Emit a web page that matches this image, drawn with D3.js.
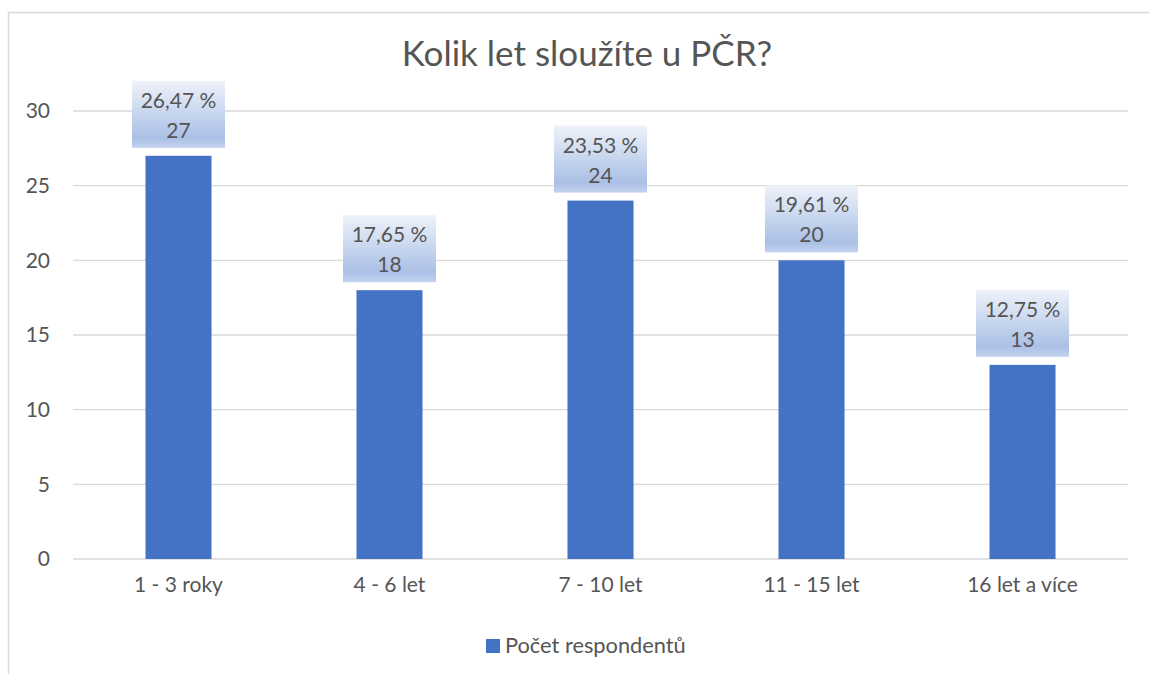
<!DOCTYPE html>
<html>
<head>
<meta charset="utf-8">
<script src="https://cdn.jsdelivr.net/npm/d3@7"></script>
<style>
    body { margin: 0; background: #fff; }
    #chart { width: 1149px; height: 674px; }
    text { font-family: Lato, "Open Sans", sans-serif; fill: #555; }
</style>
</head>
<body>
<div id="chart"></div>
<script>
const title = "Kolik let sloužíte u PČR?"
const categories = ["1 - 3 roky", "4 - 6 let", "7 - 10 let", "11 - 15 let", "16 let a více"]
const counts = [27, 18, 24, 20, 13]
const percents = ["26,47 %", "17,65 %", "23,53 %", "19,61 %", "12,75 %"]
const yTicks = [0, 5, 10, 15, 20, 25, 30]
const seriesName = "Počet respondentů"

const barColor = "#4472C4"
const gridColor = "#d9d9d9"

const width = 1149
const height = 674
const margin = {top: 111, right: 21, bottom: 115, left: 73}
const chartCenter = 587

const svg = d3.select("#chart").append("svg")
    .attr("width", width)
    .attr("height", height)

// chart frame, runs off right and bottom edges like the screenshot
svg.append("rect")
    .attr("x", 8.5)
    .attr("y", 12.5)
    .attr("width", width + 20)
    .attr("height", height + 20)
    .attr("fill", "none")
    .attr("stroke", gridColor)
    .attr("stroke-width", 1.5)

const defs = svg.append("defs")
const grad = defs.append("linearGradient")
    .attr("id", "labelFill")
    .attr("x1", 0).attr("y1", 0).attr("x2", 0).attr("y2", 1)
grad.append("stop").attr("offset", "0%").attr("stop-color", "#eef2fa")
grad.append("stop").attr("offset", "45%").attr("stop-color", "#cad8ef")
grad.append("stop").attr("offset", "85%").attr("stop-color", "#abc0e6")
grad.append("stop").attr("offset", "100%").attr("stop-color", "#c3d2ee")

const x = d3.scaleBand()
    .domain(categories)
    .range([margin.left, width - margin.right])
    .paddingInner(0.687)
    .paddingOuter(0.3435)

const y = d3.scaleLinear()
    .domain([0, 30])
    .range([height - margin.bottom, margin.top])

// gridlines
svg.append("g")
    .selectAll("line")
    .data(yTicks)
    .join("line")
    .attr("x1", margin.left)
    .attr("x2", width - margin.right)
    .attr("y1", d => y(d))
    .attr("y2", d => y(d))
    .attr("stroke", gridColor)
    .attr("stroke-width", 1.3)

// y axis labels
const yAxis = d3.axisLeft(y).tickValues(yTicks).tickSize(0).tickPadding(0)
svg.append("g")
    .attr("transform", `translate(50, 0)`)
    .call(yAxis)
    .call(g => g.select(".domain").remove())
    .selectAll("text")
    .attr("font-size", 21)
    .attr("font-family", null)
    .attr("fill", null)

// x axis labels
const xAxis = d3.axisBottom(x).tickSize(0).tickPadding(18)
svg.append("g")
    .attr("transform", `translate(0, ${y(0)})`)
    .call(xAxis)
    .call(g => g.select(".domain").remove())
    .selectAll("text")
    .attr("font-size", 21)
    .attr("font-family", null)
    .attr("fill", null)

// bars
svg.append("g")
    .selectAll("rect")
    .data(counts)
    .join("rect")
    .attr("x", (d, i) => x(categories[i]))
    .attr("y", d => y(d))
    .attr("width", x.bandwidth())
    .attr("height", d => y(0) - y(d))
    .attr("fill", barColor)

// data labels
const boxW = 93, boxH = 67, boxGap = 8
const labels = svg.append("g")
    .selectAll("g")
    .data(counts)
    .join("g")
    .attr("transform", (d, i) =>
        `translate(${x(categories[i]) + x.bandwidth() / 2}, ${y(d) - boxGap - boxH})`)

labels.append("rect")
    .attr("x", -boxW / 2)
    .attr("width", boxW)
    .attr("height", boxH)
    .attr("fill", "url(#labelFill)")

labels.append("text")
    .attr("text-anchor", "middle")
    .attr("y", 27)
    .attr("font-size", 21)
    .text((d, i) => percents[i])

labels.append("text")
    .attr("text-anchor", "middle")
    .attr("y", 57)
    .attr("font-size", 21)
    .text(d => d)

// title
svg.append("text")
    .attr("x", chartCenter)
    .attr("y", 66)
    .attr("text-anchor", "middle")
    .attr("font-size", 35)
    .text(title)

// legend
const legend = svg.append("g")
    .attr("transform", `translate(486, 653)`)
legend.append("rect")
    .attr("y", -14)
    .attr("width", 14)
    .attr("height", 14)
    .attr("fill", barColor)
legend.append("text")
    .attr("x", 19)
    .attr("font-size", 21.8)
    .text(seriesName)
</script>
</body>
</html>
